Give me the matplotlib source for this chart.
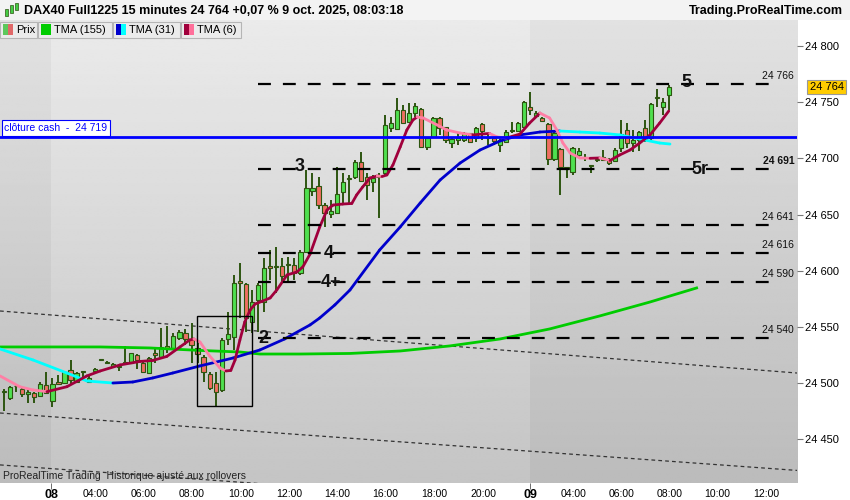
import matplotlib
matplotlib.use('Agg')
import numpy as np
import matplotlib.pyplot as plt
from matplotlib.patches import Rectangle

plt.rcParams['font.family'] = ['Liberation Sans', 'DejaVu Sans']

# 15-minute candles, DAX40 Full1225 (bar index 0 = first visible bar)
opens = [24492.1, 24486.5, 24497.0, 24494.8, 24490.1, 24490.9, 24488.6, 24498.4, 24484.4, 24501.3,
         24500.4, 24511.7, 24501.3, 24509.8, 24501.3, 24510.8, 24521.0, 24518.3, 24515.3, 24514.4,
         24518.3, 24517.7, 24525.0, 24518.2, 24509.3, 24527.1, 24523.5, 24533.0, 24531.0, 24540.0,
         24544.4, 24539.0, 24531.5, 24523.5, 24508.1, 24500.4, 24493.9, 24539.3, 24541.3, 24590.9,
         24588.0, 24554.0, 24574.0, 24572.5, 24604.3, 24603.1, 24604.3, 24605.2, 24605.2, 24597.8,
         24617.0, 24671.0, 24675.7, 24658.5, 24650.5, 24651.7, 24670.4, 24682.1, 24683.2, 24697.1,
         24683.2, 24679.3, 24683.2, 24686.8, 24727.3, 24725.9, 24743.1, 24732.7, 24740.7, 24743.7,
         24710.4, 24719.3, 24735.7, 24727.7, 24714.0, 24716.4, 24716.4, 24722.4, 24717.9, 24730.4,
         24717.9, 24717.9, 24712.0, 24714.9, 24724.6, 24724.7, 24728.2, 24745.5, 24737.8, 24735.7,
         24730.6, 24699.2, 24708.1, 24690.3, 24688.2, 24703.0, 24701.0, 24693.1, 24698.6, 24698.6,
         24698.6, 24697.9, 24709.0, 24725.3, 24713.5, 24716.4, 24726.8, 24717.9, 24753.5, 24746.0,
         24756.5]
highs = [24494.8, 24497.5, 24498.0, 24496.3, 24493.9, 24492.4, 24501.3, 24510.2, 24504.3, 24507.3,
         24511.1, 24520.6, 24510.2, 24511.0, 24506.4, 24513.5, 24521.6, 24520.0, 24517.5, 24515.2,
         24533.0, 24527.0, 24525.7, 24519.0, 24523.5, 24531.0, 24548.8, 24550.9, 24544.4, 24547.3,
         24547.9, 24553.5, 24538.4, 24525.0, 24510.2, 24510.2, 24539.9, 24563.6, 24596.3, 24606.7,
         24589.4, 24582.9, 24589.1, 24611.1, 24618.5, 24621.4, 24611.1, 24612.5, 24611.4, 24618.5,
         24689.7, 24686.8, 24683.2, 24660.1, 24663.0, 24692.1, 24686.8, 24685.3, 24698.6, 24706.0,
         24686.8, 24685.3, 24686.8, 24738.7, 24737.1, 24753.5, 24747.5, 24749.1, 24749.6, 24744.6,
         24719.3, 24736.9, 24737.1, 24728.2, 24719.3, 24722.4, 24723.8, 24722.9, 24727.7, 24731.3,
         24722.4, 24719.3, 24718.2, 24725.3, 24732.7, 24732.7, 24751.4, 24759.4, 24742.2, 24736.9,
         24731.3, 24724.4, 24709.0, 24692.2, 24710.4, 24709.0, 24703.9, 24693.4, 24700.1, 24707.5,
         24700.1, 24709.0, 24734.2, 24731.8, 24725.3, 24724.0, 24734.2, 24749.3, 24761.5, 24753.5,
         24765.4]
lows = [24475.2, 24485.0, 24492.0, 24488.0, 24482.6, 24482.6, 24488.0, 24490.3, 24479.0, 24498.4,
        24499.2, 24498.4, 24500.4, 24505.7, 24499.9, 24510.4, 24520.8, 24517.0, 24515.0, 24511.0,
        24517.7, 24517.0, 24512.3, 24509.6, 24508.8, 24517.7, 24523.0, 24526.5, 24530.1, 24538.4,
        24534.0, 24517.7, 24517.7, 24501.3, 24493.9, 24479.0, 24492.4, 24534.0, 24529.5, 24557.7,
        24545.8, 24544.6, 24545.8, 24563.6, 24591.8, 24580.0, 24588.9, 24588.9, 24591.8, 24596.3,
        24615.6, 24666.6, 24654.7, 24639.2, 24646.7, 24651.2, 24658.5, 24658.5, 24681.7, 24679.3,
        24663.0, 24670.4, 24646.7, 24685.3, 24723.8, 24725.3, 24731.3, 24731.3, 24737.1, 24709.9,
        24707.5, 24719.0, 24720.9, 24713.5, 24709.0, 24711.9, 24714.9, 24713.5, 24714.9, 24716.4,
        24711.9, 24711.9, 24706.0, 24713.5, 24722.4, 24723.8, 24726.8, 24738.7, 24736.0, 24732.4,
        24694.2, 24697.7, 24667.5, 24682.3, 24685.3, 24700.1, 24698.0, 24687.3, 24697.1, 24698.0,
        24694.2, 24696.8, 24706.0, 24709.0, 24706.0, 24706.9, 24714.9, 24716.4, 24746.0, 24738.7,
        24743.1]
closes = [24493.0, 24496.3, 24497.5, 24490.3, 24492.4, 24487.4, 24499.2, 24491.0, 24499.2, 24499.2,
          24510.2, 24502.8, 24509.3, 24510.4, 24504.3, 24512.9, 24521.4, 24518.7, 24516.8, 24514.8,
          24518.8, 24526.5, 24520.6, 24510.2, 24522.6, 24525.0, 24532.4, 24530.1, 24541.9, 24545.8,
          24539.0, 24534.0, 24525.7, 24510.2, 24495.4, 24492.4, 24538.4, 24543.5, 24588.9, 24588.9,
          24557.7, 24572.5, 24587.4, 24602.2, 24602.2, 24604.3, 24595.4, 24605.6, 24597.8, 24617.0,
          24673.4, 24673.4, 24658.5, 24651.2, 24653.2, 24668.3, 24679.3, 24682.4, 24697.1, 24680.2,
          24676.4, 24682.3, 24685.3, 24729.8, 24731.3, 24743.1, 24731.8, 24740.2, 24746.9, 24710.4,
          24717.9, 24735.7, 24726.8, 24716.4, 24717.0, 24717.9, 24722.9, 24714.4, 24726.8, 24724.7,
          24718.2, 24715.8, 24716.4, 24723.8, 24724.9, 24731.3, 24750.5, 24743.1, 24740.2, 24733.6,
          24699.5, 24722.9, 24692.1, 24692.1, 24709.0, 24706.6, 24701.3, 24693.3, 24698.8, 24701.0,
          24696.2, 24707.5, 24721.5, 24714.0, 24716.4, 24723.8, 24716.4, 24748.4, 24754.9, 24750.5,
          24763.8]

# moving averages read as (bar, price) knots
tma155_x = [-0.66, 15.9, 24.1, 32.4, 39.0, 42.3, 48.9, 57.2, 65.5, 73.7, 82.0, 90.2, 98.5, 106.8, 114.5]
tma155_y = [24532.2, 24532.2, 24531.3, 24529.1, 24527.7, 24525.9, 24525.9, 24526.4, 24528.6, 24533.1,
            24539.3, 24548.2, 24559.8, 24572.2, 24584.7]
tma31_x = [-0.66, 4.8, 10.4, 13.7, 18.0, 21.3, 24.6, 27.9, 32.4, 37.9, 42.3, 46.4, 50.6, 52.2, 54.7,
           57.2, 62.1, 65.5, 68.8, 72.1, 75.4, 78.7, 82.0, 85.3, 88.6, 91.9, 95.2, 98.5, 101.8, 105.1,
           108.4, 110.1]
tma31_y = [24530.4, 24520.6, 24509.0, 24501.9, 24500.1, 24501.0, 24504.6, 24509.0, 24515.3, 24522.4,
           24529.5, 24539.3, 24551.8, 24558.0, 24569.6, 24582.9, 24618.5, 24639.0, 24660.3, 24680.8,
           24695.9, 24707.5, 24715.5, 24720.9, 24723.5, 24724.4, 24723.5, 24722.6, 24720.9, 24717.3,
           24713.7, 24712.8]
tma6_x = [-0.66, 2.6, 4.8, 7.1, 10.4, 13.7, 15.9, 19.2, 22.5, 24.6, 26.9, 29.1, 30.7, 31.4, 32.4,
          34.0, 35.7, 36.7, 37.5, 38.2, 39.0, 39.8, 40.7, 41.5, 42.6, 44.0, 45.1, 46.8, 48.4, 49.4,
          50.6, 52.2, 53.4, 54.4, 56.0, 57.5, 58.3, 59.3, 60.5, 61.7, 62.5, 63.3, 64.3, 65.5, 66.6,
          67.6, 68.3, 69.3, 71.6, 73.2, 75.4, 77.5, 79.0, 80.3, 81.5, 83.1, 85.3, 86.9, 88.6, 90.2,
          91.4, 92.4, 93.6, 95.2, 96.9, 98.5, 100.2, 101.8, 103.5, 105.1, 106.8, 108.4, 109.9]
tma6_y = [24506.4, 24496.8, 24493.9, 24492.4, 24496.8, 24506.4, 24510.8, 24516.2, 24519.3, 24520.2,
          24523.7, 24532.2, 24538.4, 24539.3, 24536.6, 24524.2, 24513.5, 24510.8, 24511.3, 24520.6,
          24538.4, 24554.4, 24565.1, 24570.4, 24572.7, 24575.8, 24582.9, 24596.3, 24598.9, 24603.4,
          24614.9, 24639.0, 24654.1, 24658.5, 24659.4, 24659.9, 24667.5, 24674.6, 24682.6, 24684.4,
          24683.9, 24685.3, 24694.2, 24710.2, 24725.3, 24734.2, 24736.9, 24736.0, 24729.8, 24725.3,
          24722.6, 24720.9, 24721.7, 24722.2, 24719.1, 24718.2, 24721.7, 24731.5, 24740.4, 24736.0,
          24725.3, 24713.7, 24704.8, 24700.4, 24700.1, 24700.4, 24698.2, 24703.1, 24707.5, 24713.7,
          24720.9, 24731.5, 24742.2]

levels = [24766, 24691, 24641, 24616, 24590, 24540]
level_bold = [False, True, False, False, False, False]
marks = ['5', '5r', '3', '4', '4+', '2']
mark_x = [112.9, 115.0, 48.8, 53.7, 54.0, 42.8]
mark_y = [24768, 24690, 24693, 24615, 24590, 24540]
cash_close = 24719

# parallel trend channel (start/end prices at left/right edge)
channel_x = [-0.66, 131.1]
channel_lines = [[24564.2, 24509.0], [24473.4, 24422.3], [24427.2, 24376.1]]

box_x = [31.95, 41.0]
box_y = [24479.7, 24559.8]

tick_pos = [7.9, 15.2, 23.0, 31.1, 39.2, 47.1, 55.1, 63.1, 71.2, 79.2, 87.0, 94.2, 102.1, 110.1, 117.9, 126.0]
tick_lab = ['08', '04:00', '06:00', '08:00', '10:00', '12:00', '14:00', '16:00', '18:00', '20:00',
            '09', '04:00', '06:00', '08:00', '10:00', '12:00']
day_starts = [7.85, 86.9]

xmin, xmax = -0.66, 131.1
ymin, ymax = 24411.1, 24823.2

W, H = 850, 500
fig = plt.figure(figsize=(8.5, 5), dpi=100)
fig.patch.set_facecolor('white')
ax = fig.add_axes([0, 17 / H, 797 / W, 463 / H])
ax.set_xlim(xmin, xmax)
ax.set_ylim(ymin, ymax)
for s in ax.spines.values():
    s.set_visible(False)

# background: vertical gradient, current day lighter
grad = np.linspace(0.92, 0.77, 200).reshape(-1, 1)
bounds = [xmin] + day_starts + [xmax]
shade = [-0.035, 0.0, -0.035]
for k in range(3):
    ax.imshow(np.clip(grad + shade[k], 0, 1), extent=[bounds[k], bounds[k + 1], ymin, ymax],
              aspect='auto', cmap='gray', vmin=0, vmax=1, zorder=0, interpolation='bilinear')

# trend channel
for ln in channel_lines:
    ax.plot(channel_x, ln, color='#333333', lw=0.9, ls=(0, (3, 2.5)), zorder=1)

# candles
idx = np.arange(len(opens))
o = np.array(opens); c = np.array(closes)
up = c >= o
ax.vlines(idx, lows, highs, color='#2d5510', lw=1.4, zorder=2)
body_h = np.maximum(np.abs(c - o), 0.7)
ax.bar(idx, body_h, bottom=np.minimum(o, c), width=0.7,
       color=np.where(up, '#4fe04f', '#ef6f62'), edgecolor='#2d5510', lw=0.8, zorder=2.5)


def plot_dir(xs, ys, col_up, col_dn):
    for k in range(len(xs) - 1):
        col = col_up if ys[k + 1] >= ys[k] else col_dn
        ax.plot(xs[k:k + 2], ys[k:k + 2], color=col, lw=2, solid_capstyle='round', zorder=3)


ax.plot(tma155_x, tma155_y, color='#00cc00', lw=2, zorder=3)
plot_dir(tma31_x, tma31_y, '#0000cc', '#00ffff')
plot_dir(tma6_x, tma6_y, '#a0003c', '#ff7fa5')

# cash close line
ax.axhline(cash_close, color='#0000ff', lw=2, zorder=4)
ax.annotate('clôture cash  -  24 719', xy=(xmin, cash_close), xytext=(3, 3), textcoords='offset points',
            ha='left', va='bottom', fontsize=7.5, color='#0000ff', zorder=6,
            bbox=dict(boxstyle='square,pad=0.25', fc='white', ec='#0000ff', lw=0.8))

# key levels
for lv, b in zip(levels, level_bold):
    ax.plot([42, 128.3], [lv, lv], color='black', lw=1.6, ls=(0, (5.8, 5.4)), zorder=4)
    ax.annotate(f'{lv:,}'.replace(',', ' '), xy=(xmax, lv), xytext=(-2, 2), textcoords='offset points',
                ha='right', va='bottom', fontsize=7.5, color='#111111',
                fontweight='bold' if b else 'normal', zorder=6)
for t, mx, my in zip(marks, mark_x, mark_y):
    ax.text(mx, my, t, fontsize=13, fontweight='bold', ha='center', va='center', color='#111111', zorder=6)

ax.add_patch(Rectangle((box_x[0], box_y[0]), box_x[1] - box_x[0], box_y[1] - box_y[0],
                       fill=False, ec='black', lw=1, zorder=5))

# axes ticks
ax.yaxis.tick_right()
yt = np.arange(24450, 24801, 50)
ax.set_yticks(yt)
ax.set_yticklabels([f'{v:,}'.replace(',', ' ') for v in yt])
ax.tick_params(axis='y', direction='out', length=4, pad=2, labelsize=8, color='#777777')
ax.set_xticks(tick_pos)
ax.set_xticklabels(tick_lab)
ax.tick_params(axis='x', length=0, pad=4, labelsize=7.5)
for lab in ax.get_xticklabels():
    if ':' in lab.get_text():
        lab.set_family(['Liberation Sans Narrow', 'Liberation Sans'])
    else:
        lab.set_fontsize(9)
        lab.set_fontweight('bold')
ax.set_xticks(day_starts, minor=True)
ax.tick_params(axis='x', which='minor', length=4, color='#555555')

# last price tag
ax.annotate('24 764', xy=(xmax, closes[-1]), xytext=(9, 0), textcoords='offset points',
            xycoords='data', ha='left', va='center', fontsize=8, annotation_clip=False,
            bbox=dict(boxstyle='square,pad=0.2', fc='#ffcc00', ec='#999999', lw=0.8), zorder=7)

fig.text(3 / W, 1 - 476 / H, 'ProRealTime Trading  Historique ajusté aux rollovers',
         fontsize=7.5, color='#222222', va='center', ha='left')


# header and legend strip (figure pixel coordinates)
def fx(px):
    return px / W


def fy(py):
    return 1 - py / H


fig.patches.append(Rectangle((0, fy(20)), 1, 20 / H, transform=fig.transFigure,
                             fc='#f3f3f3', ec='none', zorder=0))
fig.text(fx(24), fy(11), 'DAX40 Full1225 15 minutes 24 764 +0,07 % 9 oct. 2025, 08:03:18',
         fontsize=9, fontweight='bold', va='center', ha='left')
fig.text(fx(843), fy(11), 'Trading.ProRealTime.com', fontsize=9, fontweight='bold', va='center', ha='right')
for px, h0, h1, col in [(6, 9, 16, '#44cc44'), (11, 5, 13, '#44cc44'), (16, 3, 10, '#44cc44')]:
    fig.patches.append(Rectangle((fx(px - 1.5), fy(h1)), 3 / W, (h1 - h0) / H,
                                 transform=fig.transFigure, fc=col, ec='#2d5510', lw=0.5))

legend_boxes = [(0, 37, 'Prix', ['#5cc85c', '#e06868']),
                (38, 112, 'TMA (155)', ['#00cc00', '#00cc00']),
                (113, 180, 'TMA (31)', ['#0000cc', '#00ffff']),
                (181, 241, 'TMA (6)', ['#a0003c', '#ff6f9a'])]
for x0, x1, lab, cols in legend_boxes:
    fig.patches.append(Rectangle((fx(x0), fy(38)), (x1 - x0) / W, 16 / H, transform=fig.transFigure,
                                 fc='#ebebeb', ec='#b5b5b5', lw=0.8, zorder=5))
    fig.patches.append(Rectangle((fx(x0 + 3), fy(35)), 5 / W, 11 / H, transform=fig.transFigure,
                                 fc=cols[0], ec='none', zorder=6))
    fig.patches.append(Rectangle((fx(x0 + 8), fy(35)), 5 / W, 11 / H, transform=fig.transFigure,
                                 fc=cols[1], ec='none', zorder=6))
    fig.text(fx(x0 + 16), fy(30), lab, fontsize=8, va='center', ha='left', zorder=7)

fig.savefig('out.png', dpi=100)
